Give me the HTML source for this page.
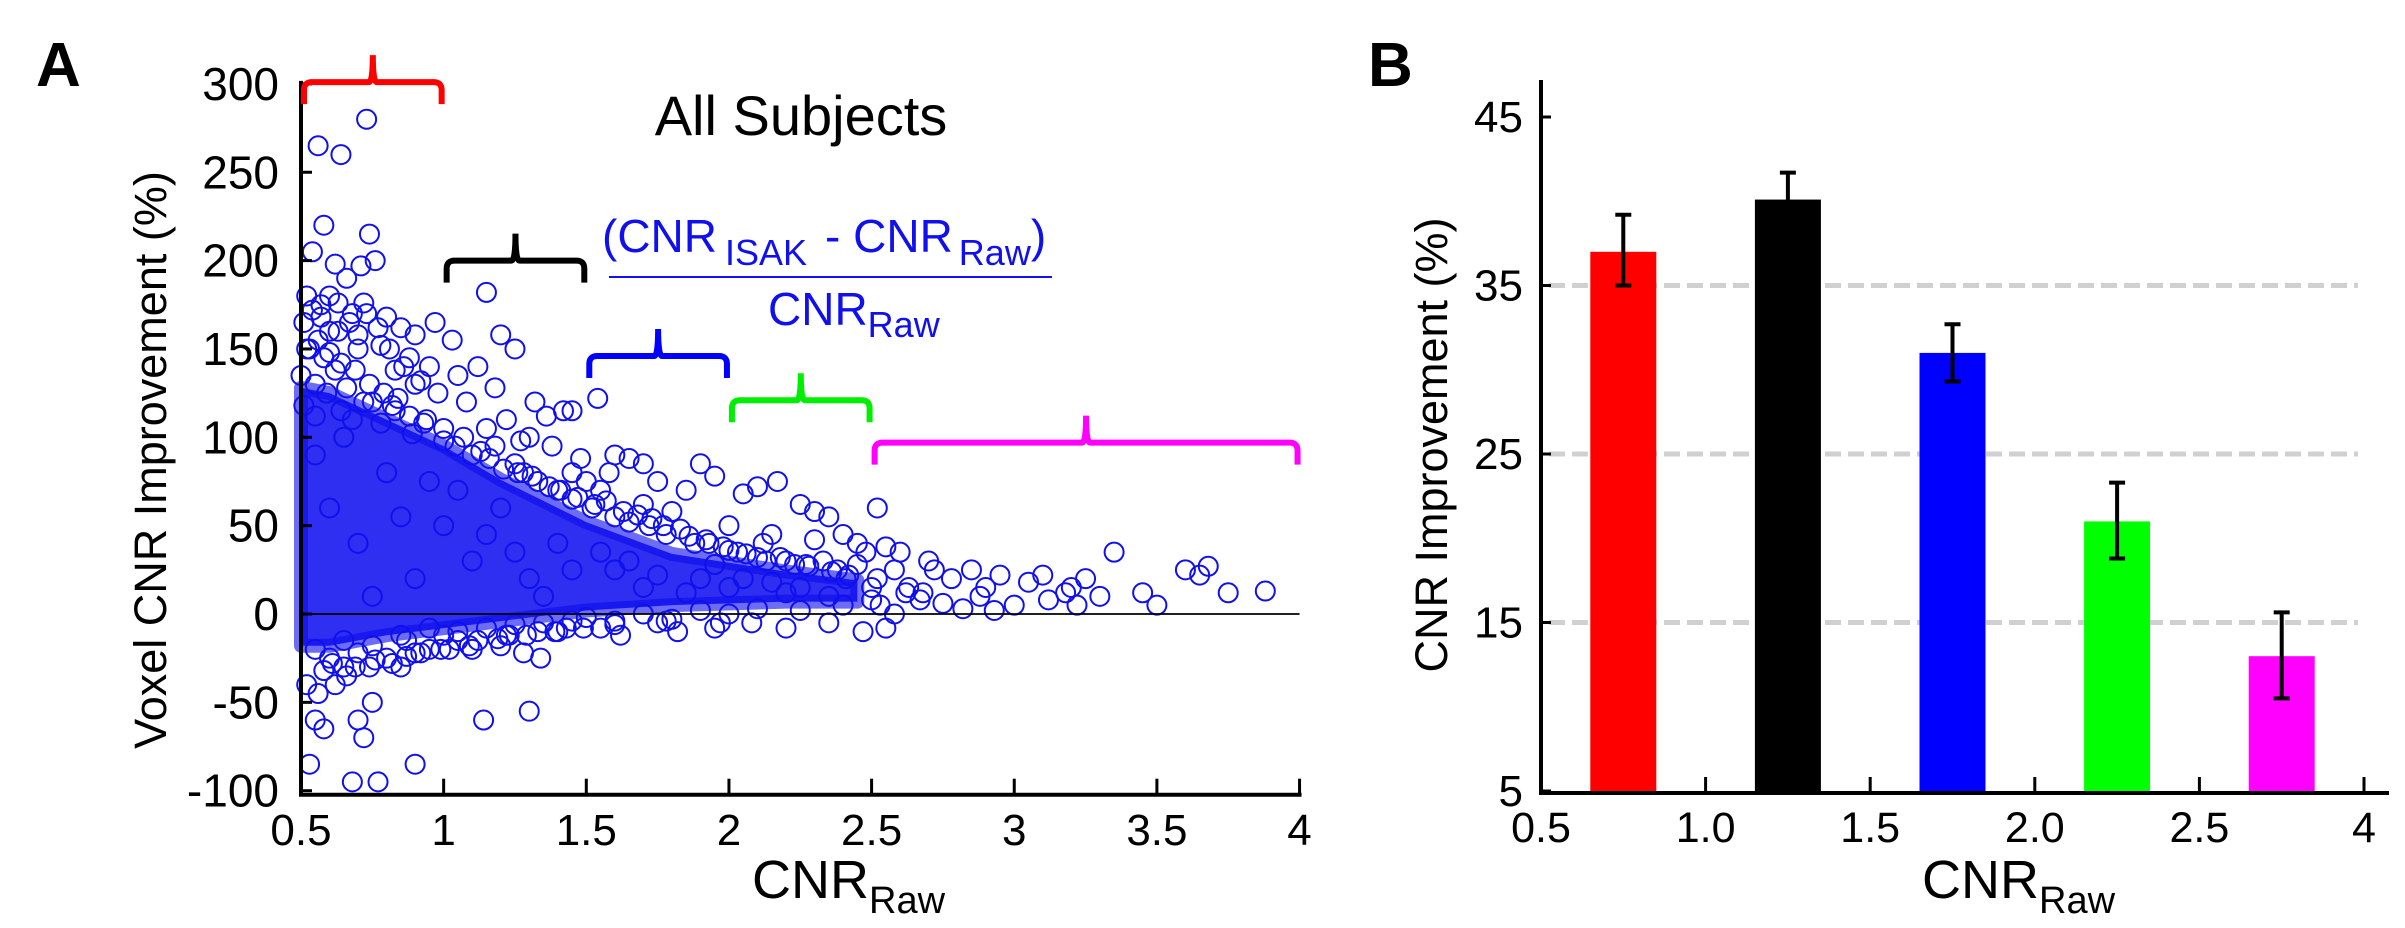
<!DOCTYPE html>
<html><head><meta charset="utf-8"><style>
html,body{margin:0;padding:0;background:#fff;}
svg{display:block;font-family:"Liberation Sans",Arial,sans-serif;}
</style></head><body>
<svg id="fig" width="2405" height="928" viewBox="0 0 2405 928" xmlns="http://www.w3.org/2000/svg">
<g id="panelA"></g>
<g id="panelB"></g>
</svg>
<script>
// ---------- Panel A data ----------
const cnrRaw = [0.73,0.56,0.64,0.58,0.74,0.54,0.62,0.71,0.76,0.66,1.15,0.52,0.57,0.6,0.68,0.72,0.8,0.85,0.9,0.97,1.03,1.2,1.25,0.63,0.53,0.58,0.7,0.78,0.88,0.95,1.05,1.12,1.18,1.32,1.36,1.42,1.45,1.54,1.6,1.65,1.7,1.3,1.22,1.38,1.48,1.58,1.75,1.85,1.9,1.95,2.05,2.1,2.17,2.25,2.3,2.35,2.52,2.4,2.45,2.48,2.55,2.6,2.7,2.72,2.78,2.85,2.9,2.95,3.05,3.1,3.2,3.25,3.3,3.35,3.0,2.63,2.67,2.75,2.82,2.88,2.5,2.58,2.68,2.93,3.18,3.22,3.12,3.88,3.68,3.75,3.6,3.45,3.5,3.65,
0.52,0.55,0.58,0.53,0.6,0.65,0.7,0.72,0.75,0.68,0.77,0.9,1.14,1.3,1.28,1.34,0.56,0.62,0.8,0.85,0.95,1.05,1.1,0.87,1.22,1.4,1.55,1.62,1.75,1.82,1.95,2.08,2.2,2.35,2.47,2.55,
0.5,0.55,0.62,0.66,0.75,0.82,0.88,0.93,1.0,1.07,1.13,1.18,1.25,1.28,1.33,1.4,1.45,1.52,1.55,1.6,1.65,1.72,1.78,1.83,1.88,1.92,1.98,2.03,2.1,2.15,2.2,2.27,2.33,2.38,2.42,2.0,1.7,1.45,1.15,0.98,0.9,0.83,1.08,1.27,1.5,1.8,2.12,2.3,2.45,2.52,2.58,2.62,2.5,2.53,
0.55,0.65,0.75,0.85,0.95,1.05,1.15,1.25,1.35,1.45,1.5,1.6,1.7,1.8,1.9,2.0,2.1,2.25,2.4,1.0,1.2,0.9,0.7,
0.6,0.7,0.8,0.9,1.0,1.1,1.2,1.3,1.4,1.6,1.7,1.9,2.0,2.2,0.55,0.65,0.75,0.85,0.95,1.05,1.15,1.25,1.35,1.45,1.55,1.65,1.75,1.85,1.95,2.05,2.15,2.25,2.35,
0.51,0.54,0.57,0.6,0.63,0.67,0.7,0.73,0.77,0.81,0.86,0.92,0.52,0.56,0.6,0.64,0.69,0.74,0.79,0.84,0.51,0.55,0.59,0.64,0.68,0.72,0.78,0.83,0.89,0.94,1.0,1.04,1.1,1.16,1.21,1.26,1.31,1.37,1.41,1.47,1.53,1.57,1.63,1.68,1.73,1.77,1.86,1.93,2.0,2.06,2.13,2.18,2.23,2.28,2.36,2.41,0.61,0.69,0.76,0.87,0.99,1.09,1.19,1.29,1.39,1.49,0.58,0.66,0.74,0.82,0.92,1.02,1.12,1.23,1.33,1.43,1.6,1.78,1.97];
const improvement = [280,265,260,220,215,205,198,197,200,190,182,180,175,180,170,176,168,162,158,165,155,158,150,160,150,145,150,152,145,140,135,140,128,120,112,115,115,122,90,88,85,100,110,95,88,80,75,70,85,78,68,72,75,62,58,55,60,45,40,35,38,35,30,25,20,25,15,22,18,22,15,20,10,35,5,15,8,6,3,10,8,0,12,2,12,5,8,13,27,12,25,12,5,22,
-40,-60,-65,-85,-25,-30,-60,-70,-50,-95,-95,-85,-60,-55,-22,-25,-45,-40,-25,-30,-20,-15,-20,-15,-12,-10,-8,-12,-5,-10,-8,-5,-8,-5,-10,-8,
135,130,138,128,120,118,112,108,105,100,92,95,85,80,75,70,65,60,70,55,52,50,45,48,40,42,38,35,32,45,30,28,30,25,22,50,62,80,105,125,130,138,120,98,75,58,40,42,28,20,25,12,15,5,
-20,-15,-18,-12,-8,-10,-8,-6,-5,-4,-2,-4,0,-3,2,0,3,2,5,-12,-18,-22,-22,
60,40,80,20,50,30,60,20,40,25,15,20,15,12,90,100,10,55,75,70,45,35,10,25,35,30,22,12,28,20,18,15,10,
165,172,168,160,176,165,158,170,162,150,140,132,150,155,148,142,138,130,125,122,118,112,125,115,110,120,108,115,102,110,98,95,90,88,82,80,78,72,70,66,62,64,58,56,54,50,44,40,36,34,30,32,28,27,24,20,-28,-30,-26,-24,-20,-18,-14,-12,-10,-8,-32,-35,-30,-28,-22,-20,-15,-12,-10,-8,-6,-4,-5];
// dense-core envelope (data units)
const coreX = [0.5,0.6,0.8,1.0,1.2,1.5,1.8,2.2,2.45,2.45,2.2,1.8,1.5,1.2,1.0,0.8,0.6,0.5];
const coreY = [128,125,110,95,76,52,34,24,19,7,7,5,2,-4,-8,-12,-18,-18];
const xTicksA = [0.5,1,1.5,2,2.5,3,3.5,4];
const xTickLabelsA = ["0.5","1","1.5","2","2.5","3","3.5","4"];
const yTicksA = [-100,-50,0,50,100,150,200,250,300];
const yTickLabelsA = ["-100","-50","0","50","100","150","200","250","300"];
const bracketStart = [0.5,1.0,1.5,2.0,2.5];
const bracketEnd = [1.0,1.5,2.0,2.5,4.0];
const bracketLevel = [301,200,146,121,97];
const bracketColors = ["#ff0000","#000000","#0000ff","#00ee00","#ff00ff"];

// ---------- Panel B data ----------
const binLabels = ["0.5","1.0","1.5","2.0","2.5","4"];
const meanImprovement = [37.0,40.1,31.0,21.0,13.0];
const errUpper = [39.2,41.7,32.7,23.3,15.6];
const errLower = [35.0,38.5,29.3,18.8,10.5];
const barColors = ["#ff0000","#000000","#0000ff","#00ff00","#ff00ff"];
const yTicksB = [5,15,25,35,45];
const gridB = [15,25,35];

const NS = "http://www.w3.org/2000/svg";
function mk(tag, attrs, parent){const e=document.createElementNS(NS,tag);for(const k in attrs)e.setAttribute(k,attrs[k]);parent.appendChild(e);return e;}

// axis functions A
const xA = v => 301 + (v-0.5)*285.3;
const yA = v => 614 - v*1.767;
const gA = document.getElementById('panelA');

let t = mk('text',{x:36,y:86,'font-size':62,'font-weight':'bold'},gA); t.textContent='A';
 

// dense core
let pts = coreX.map((x,i)=>xA(x)+','+yA(coreY[i])).join(' ');
let core = mk('polygon',{points:pts,fill:'#0a0aee','fill-opacity':0.85,stroke:'#0a0aee','stroke-width':14,'stroke-linejoin':'round','stroke-opacity':0.6},gA);
 

// points
const ptsG = mk('g',{},gA);
 
for(let i=0;i<cnrRaw.length;i++){
  const c = mk('circle',{cx:xA(cnrRaw[i]),cy:yA(improvement[i]),r:9.5,fill:'none',stroke:'#1010ee','stroke-width':2},ptsG);
  
  
}

// zero line
let z = mk('line',{x1:xA(0.5),x2:xA(4),y1:yA(0),y2:yA(0),stroke:'#000','stroke-width':1.8},gA);
 

// axes A
let ax = mk('path',{d:`M${xA(0.5)},${yA(300)-3} L${xA(0.5)},${yA(-100)+4} L${xA(4)+2},${yA(-100)+4}`,fill:'none',stroke:'#000','stroke-width':4},gA);
 
yTicksA.forEach((v,i)=>{
  const l = mk('line',{x1:xA(0.5),x2:xA(0.5)+11,y1:yA(v),y2:yA(v),stroke:'#000','stroke-width':3},gA);
   
  const tx = mk('text',{x:279,y:yA(v)+16,'font-size':46,'text-anchor':'end'},gA);
  tx.textContent = yTickLabelsA[i];
   
});
xTicksA.forEach((v,i)=>{
  if(i>0){const l = mk('line',{x1:xA(v),x2:xA(v),y1:yA(-100)+3,y2:yA(-100)-12,stroke:'#000','stroke-width':3},gA);
   }
  const tx = mk('text',{x:xA(v),y:845,'font-size':44,'text-anchor':'middle'},gA);
  tx.textContent = xTickLabelsA[i];
   
});
let xt = mk('text',{x:752,y:898,'font-size':54},gA);
xt.innerHTML='CNR<tspan font-size="38" dy="15">Raw</tspan>';
 
let yt = mk('text',{x:0,y:0,'font-size':45,'text-anchor':'middle',transform:'translate(166,460) rotate(-90)'},gA);
yt.textContent='Voxel CNR Improvement (%)';
 
let st = mk('text',{x:801,y:135,'font-size':56,'text-anchor':'middle'},gA);
st.textContent='All Subjects';
 

// formula
let fn = mk('text',{x:602,y:252,'font-size':46,fill:'#1010ee'},gA);
fn.innerHTML='(CNR<tspan font-size="36" dy="13" dx="8">ISAK</tspan><tspan dy="-13" dx="18">- CNR</tspan><tspan font-size="36" dy="13" dx="6">Raw</tspan><tspan dy="-13">)</tspan>';
 
let fl = mk('line',{x1:609,x2:1052,y1:277,y2:277,stroke:'#1010ee','stroke-width':2},gA);
 
let fd = mk('text',{x:768,y:325,'font-size':46,fill:'#1010ee'},gA);
fd.innerHTML='CNR<tspan font-size="36" dy="12">Raw</tspan>';
 

// brackets
for(let i=0;i<bracketStart.length;i++){
  const x1 = xA(bracketStart[i])+3, x2 = xA(bracketEnd[i])-2, y = yA(bracketLevel[i]);
  const m = (x1+x2)/2, r=8;
  const d = `M${x1},${y+22} L${x1},${y+r} Q${x1},${y} ${x1+r},${y} L${m-4},${y} Q${m},${y} ${m},${y-27} Q${m},${y} ${m+4},${y} L${x2-r},${y} Q${x2},${y} ${x2},${y+r} L${x2},${y+22}`;
  const b = mk('path',{d:d,fill:'none',stroke:bracketColors[i],'stroke-width':6},gA);
  
  
}

// ---------- Panel B ----------
const gB = document.getElementById('panelB');
const xB = i => 1541 + i*164.6;
const yB = v => 791 - (v-5)*16.85;
t = mk('text',{x:1368,y:86,'font-size':62,'font-weight':'bold'},gB); t.textContent='B';
 
gridB.forEach(v=>{
  const g = mk('line',{x1:1549,x2:2358,y1:yB(v),y2:yB(v),stroke:'#d0d0d0','stroke-width':5,'stroke-dasharray':'16 7'},gB);
   
});
meanImprovement.forEach((v,i)=>{
  const cx = xB(i+0.5);
  const b = mk('rect',{x:cx-33,y:yB(v),width:66,height:yB(5)-yB(v),fill:barColors[i]},gB);
  
  
  const e = mk('path',{d:`M${cx},${yB(errUpper[i])} L${cx},${yB(errLower[i])} M${cx-8},${yB(errUpper[i])} L${cx+8},${yB(errUpper[i])} M${cx-8},${yB(errLower[i])} L${cx+8},${yB(errLower[i])}`,stroke:'#000','stroke-width':4,fill:'none'},gB);
  
  
});
ax = mk('path',{d:`M${xB(0)},80 L${xB(0)},${yB(5)+2} L2389,${yB(5)+2}`,fill:'none',stroke:'#000','stroke-width':4},gB);
 
yTicksB.forEach(v=>{
  const l = mk('line',{x1:xB(0),x2:xB(0)+10,y1:yB(v),y2:yB(v),stroke:'#000','stroke-width':3},gB);
   
  const tx = mk('text',{x:1523,y:yB(v)+15,'font-size':44,'text-anchor':'end'},gB);
  tx.textContent = String(v);
   
});
binLabels.forEach((s,i)=>{
  if(i>0){const l = mk('line',{x1:xB(i),x2:xB(i),y1:yB(5),y2:yB(5)-14,stroke:'#000','stroke-width':3},gB);
   }
  const tx = mk('text',{x:xB(i),y:842,'font-size':43,'text-anchor':'middle'},gB);
  tx.textContent = s;
   
});
xt = mk('text',{x:1922,y:898,'font-size':54},gB);
xt.innerHTML='CNR<tspan font-size="38" dy="15">Raw</tspan>';
 
yt = mk('text',{x:0,y:0,'font-size':45,'text-anchor':'middle',transform:'translate(1447,445) rotate(-90)'},gB);
yt.textContent='CNR Improvement (%)';
 
</script>
</body></html>
